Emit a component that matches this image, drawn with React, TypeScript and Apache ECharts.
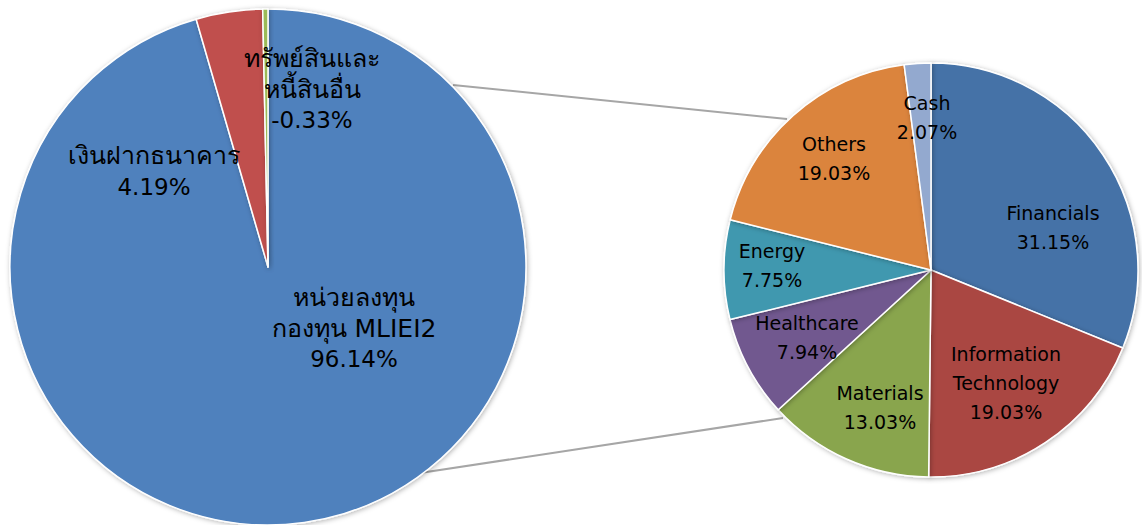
import React, { useEffect, useRef } from "react";
import * as echarts from "echarts";

const LEFT_NAMES = ["หน่วยลงทุน\nกองทุน MLIEI2", "เงินฝากธนาคาร", "ทรัพย์สินและ\nหนี้สินอื่น"];
const LEFT_VALUES = [96.14, 4.19, -0.33];
const LEFT_COLORS = ["#4f81bd", "#c0504d", "#9bbb59"];
const LEFT_LABEL_POS = [[354, 328], [154, 171], [312, 89]];

const RIGHT_NAMES = ["Financials", "Information\nTechnology", "Materials", "Healthcare", "Energy", "Others", "Cash"];
const RIGHT_VALUES = [31.15, 19.03, 13.03, 7.94, 7.75, 19.03, 2.07];
const RIGHT_COLORS = ["#4572a7", "#aa4643", "#89a54e", "#71588f", "#4198af", "#db843d", "#93a9cf"];
const RIGHT_LABEL_POS = [[1053, 227], [1006, 383], [880, 407], [807, 337], [772, 265], [834, 158], [927, 117]];

const CONNECTORS = [
  [453, 85, 787, 119],
  [420, 473, 783, 418],
];

const FONT = "'DejaVu Sans', Tahoma, 'Noto Sans', sans-serif";

export default function App() {
  const ref = useRef<HTMLDivElement>(null);
  useEffect(() => {
    document.body.style.margin = "0";
    const chart = echarts.init(ref.current!, null, { renderer: "svg" });
    const shadow = {
      borderColor: "#ffffff",
      borderWidth: 1.5,
      shadowBlur: 5,
      shadowColor: "rgba(0,0,0,0.3)",
      shadowOffsetX: 1,
      shadowOffsetY: 1,
    };
    chart.setOption({
      animation: false,
      backgroundColor: "#ffffff",
      graphic: CONNECTORS.map((c) => ({
        type: "line",
        z: 1,
        shape: { x1: c[0], y1: c[1], x2: c[2], y2: c[3] },
        style: { stroke: "#a6a6a6", lineWidth: 2 },
      })),
      series: [
        {
          type: "pie",
          center: [268, 267],
          radius: [0, 258],
          startAngle: 90,
          clockwise: true,
          avoidLabelOverlap: false,
          z: 2,
          label: {
            show: true,
            position: "inside",
            color: "#000000",
            fontFamily: FONT,
            fontSize: 23,
            lineHeight: 31,
            align: "center",
            formatter: (p: any) =>
              p.name
                .split("\n")
                .map((s: string) => `{t|${s}}`)
                .join("\n") + `\n{n|${p.data.raw.toFixed(2)}%}`,
            rich: {
              t: { fontFamily: FONT, fontSize: 25, lineHeight: 31, color: "#000000", align: "center" },
              n: { fontFamily: FONT, fontSize: 23, lineHeight: 31, color: "#000000", align: "center" },
            },
          },
          labelLine: { show: false },
          labelLayout: (p: any) => {
            const pos = LEFT_LABEL_POS[p.dataIndex];
            return { x: pos[0], y: pos[1], align: "center", verticalAlign: "middle" };
          },
          data: LEFT_NAMES.map((n, i) => ({
            name: n,
            value: Math.abs(LEFT_VALUES[i]),
            raw: LEFT_VALUES[i],
            itemStyle: { color: LEFT_COLORS[i], ...shadow },
          })),
        },
        {
          type: "pie",
          center: [931, 270],
          radius: [0, 207],
          startAngle: 90,
          clockwise: true,
          avoidLabelOverlap: false,
          z: 2,
          label: {
            show: true,
            position: "inside",
            color: "#000000",
            fontFamily: FONT,
            fontSize: 19,
            lineHeight: 29,
            align: "center",
            formatter: (p: any) => `${p.name}\n${p.data.raw.toFixed(2)}%`,
          },
          labelLine: { show: false },
          labelLayout: (p: any) => {
            const pos = RIGHT_LABEL_POS[p.dataIndex];
            return { x: pos[0], y: pos[1], align: "center", verticalAlign: "middle" };
          },
          data: RIGHT_NAMES.map((n, i) => ({
            name: n,
            value: RIGHT_VALUES[i],
            raw: RIGHT_VALUES[i],
            itemStyle: { color: RIGHT_COLORS[i], ...shadow },
          })),
        },
      ],
    });
    return () => chart.dispose();
  }, []);
  return (
    <div
      ref={ref}
      style={{ position: "fixed", left: 0, top: 0, width: 1142, height: 525 }}
    />
  );
}
